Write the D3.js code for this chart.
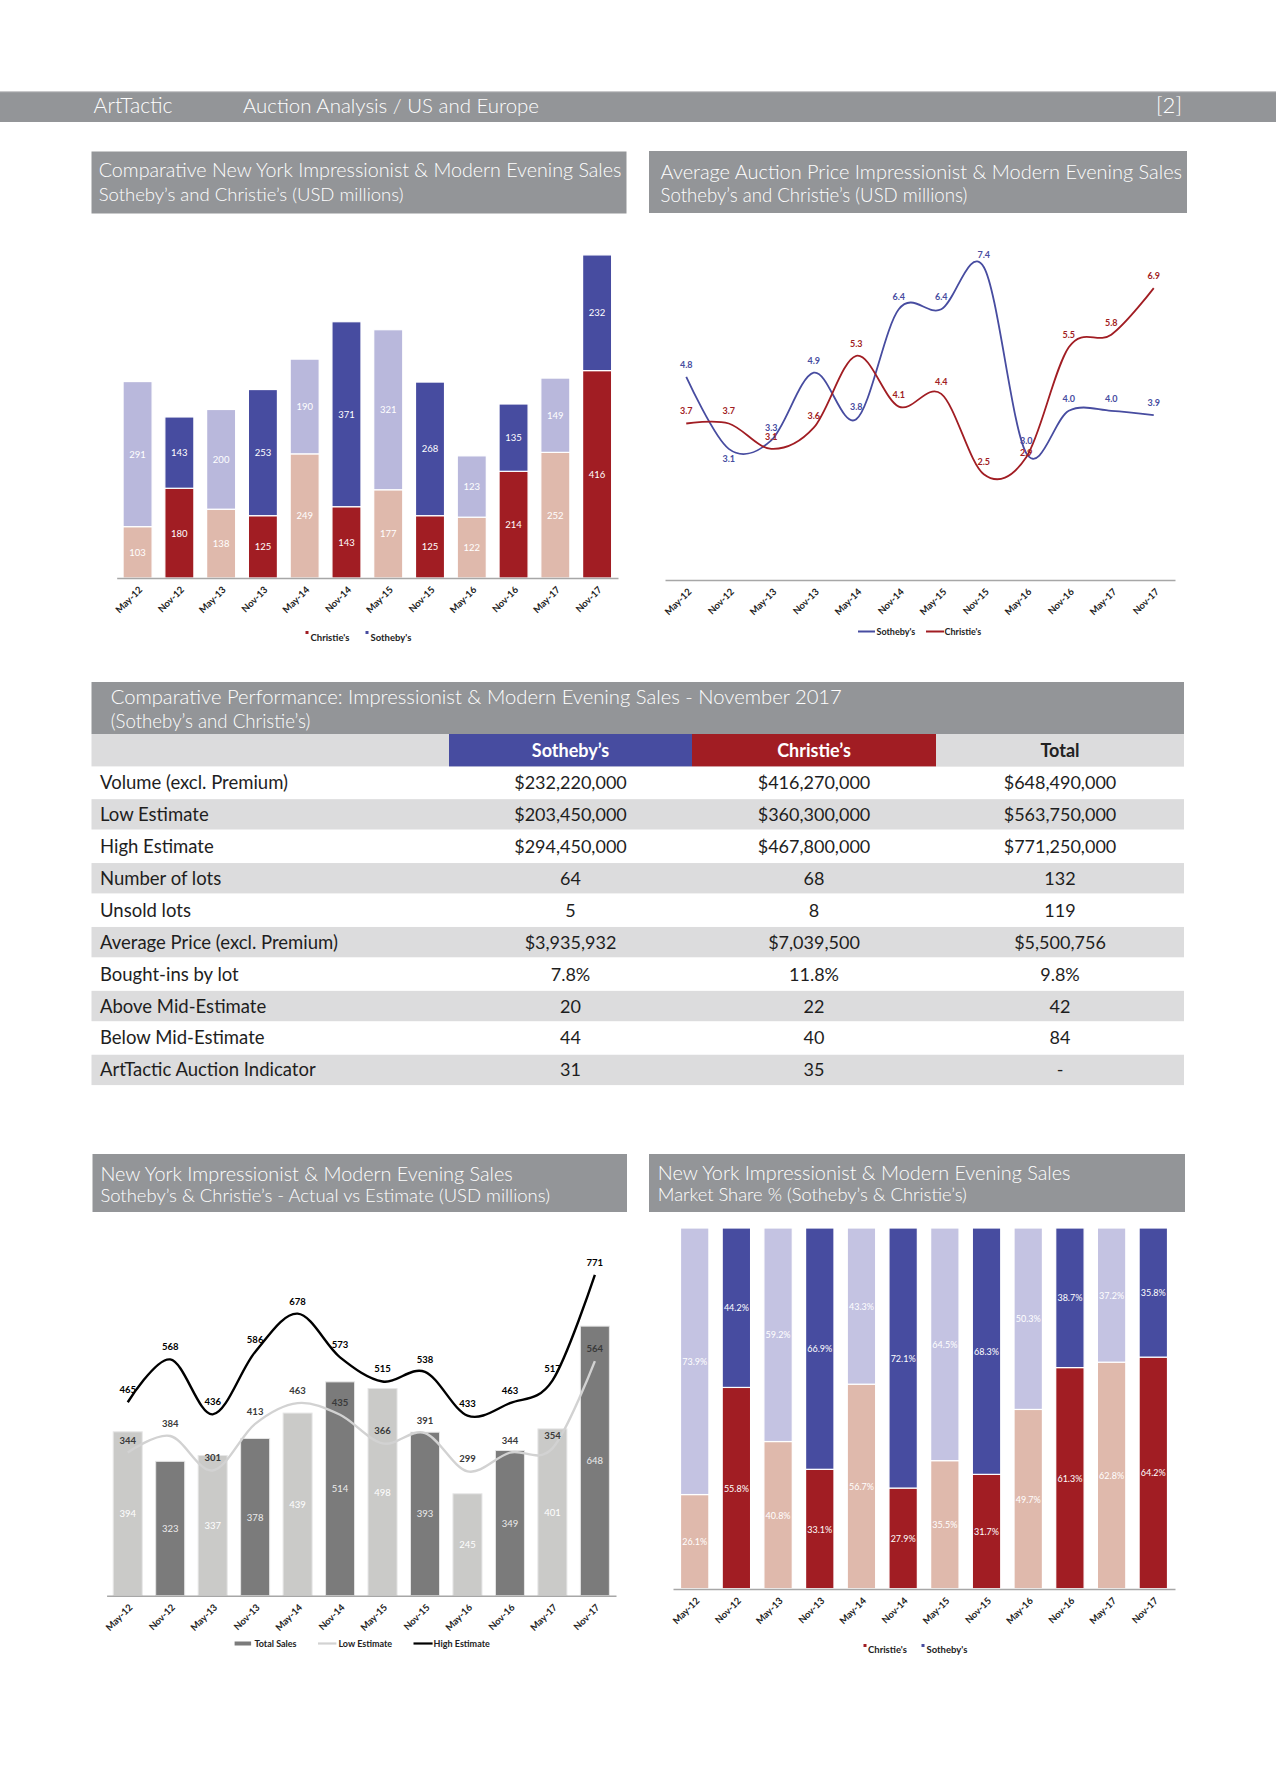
<!DOCTYPE html>
<html><head><meta charset="utf-8">
<script src="https://cdn.jsdelivr.net/npm/d3@7"></script>
<style>
body{margin:0;background:#fff;}
svg{display:block;}
text{font-family:Lato,"Open Sans",sans-serif;}
</style></head><body>
<svg id="c" width="1276" height="1790"></svg>
<script>
// ---------------- DATA ----------------
const categories = ["May-12","Nov-12","May-13","Nov-13","May-14","Nov-14","May-15","Nov-15","May-16","Nov-16","May-17","Nov-17"];
const christiesSales = [103,180,138,125,249,143,177,125,122,214,252,416];
const sothebysSales  = [291,143,200,253,190,371,321,268,123,135,149,232];
const sothebysAvgPrice  = [4.8,3.1,3.3,4.9,3.8,6.4,6.4,7.4,3.0,4.0,4.0,3.9];
const christiesAvgPrice = [3.7,3.7,3.1,3.6,5.3,4.1,4.4,2.5,2.9,5.5,5.8,6.9];
const sothebysLabelsBelow = ["Nov-12"];
const christiesLabelsLow = ["May-16"];
const totalSales   = [394,323,337,378,439,514,498,393,245,349,401,648];
const lowEstimate  = [344,384,301,413,463,435,366,391,299,344,354,564];
const highEstimate = [465,568,436,586,678,573,515,538,433,463,517,771];
const christiesShare = [26.1,55.8,40.8,33.1,56.7,27.9,35.5,31.7,49.7,61.3,62.8,64.2];
const sothebysShare  = [73.9,44.2,59.2,66.9,43.3,72.1,64.5,68.3,50.3,38.7,37.2,35.8];
const tableColumns = ["Sotheby\u2019s","Christie\u2019s","Total"];
const tableRowLabels = ["Volume (excl. Premium)","Low Estimate","High Estimate","Number of lots","Unsold lots","Average Price (excl. Premium)","Bought-ins by lot","Above Mid-Estimate","Below Mid-Estimate","ArtTactic Auction Indicator"];
const tableSothebys  = ["$232,220,000","$203,450,000","$294,450,000","64","5","$3,935,932","7.8%","20","44","31"];
const tableChristies = ["$416,270,000","$360,300,000","$467,800,000","68","8","$7,039,500","11.8%","22","40","35"];
const tableTotal     = ["$648,490,000","$563,750,000","$771,250,000","132","119","$5,500,756","9.8%","42","84","-"];

// ---------------- STYLE ----------------
const COL = {
  hdr:"#939598", sothDark:"#474ca0", sothLight:"#b9b8dc", sothLight2:"#c4c3e2",
  chrDark:"#a11d23", chrLight:"#dfb9ac", grayDark:"#7b7b7b", grayLight:"#cacac8",
  alt:"#dcdcdd", axis:"#a7a7a7"
};
const svg = d3.select("#c");
svg.append("rect").attr("width",1276).attr("height",1790).attr("fill","#fff");

function fit(sel, target){
  const w = sel.node().getComputedTextLength();
  const fs = parseFloat(sel.attr("font-size"));
  sel.attr("font-size", (fs*target/w).toFixed(2));
  return sel;
}
function header(x,y,w,h,tx,lines){
  const g = svg.append("g");
  g.append("rect").attr("x",x).attr("y",y).attr("width",w).attr("height",h).attr("fill",COL.hdr);
  lines.forEach(l=>{
    const t = g.append("text").attr("x",tx).attr("y",l.y).attr("fill","#fff")
      .attr("font-size",19).attr("font-weight",300).text(l.text);
    fit(t,l.w);
  });
}
function xAxis(g, scale, y){
  const ax = g.append("g").attr("transform",`translate(0,${y})`)
    .call(d3.axisBottom(scale).tickSize(0).tickSizeOuter(0));
  ax.select(".domain").attr("stroke",COL.axis).attr("stroke-width",1.5);
  ax.selectAll("text").attr("y",0).attr("dy","0.35em").attr("x",0)
    .attr("text-anchor","end").attr("transform","translate(3,10) rotate(-45)")
    .attr("font-size",9.5).attr("font-weight",700).attr("fill","#222")
    .attr("font-family","Lato, sans-serif");
  return ax;
}

// ---------------- TOP BAR ----------------
svg.append("rect").attr("x",0).attr("y",92).attr("width",1276).attr("height",30).attr("fill",COL.hdr);
svg.append("rect").attr("x",0).attr("y",91).attr("width",1276).attr("height",1.2).attr("fill","#c8c8ca");
fit(svg.append("text").attr("x",93.6).attr("y",113).attr("fill","#fff").attr("font-size",19).attr("font-weight",300).text("ArtTactic"),79);
fit(svg.append("text").attr("x",243).attr("y",113).attr("fill","#fff").attr("font-size",19).attr("font-weight",300).text("Auction Analysis / US and Europe"),296);
fit(svg.append("text").attr("x",1156).attr("y",113).attr("fill","#fff").attr("font-size",19).attr("font-weight",300).text("[2]"),26);

// ---------------- CHART 1: stacked bars ----------------
header(91.5,151.5,535,62,98.7,[
  {text:"Comparative New York Impressionist & Modern Evening Sales",y:177,w:523},
  {text:"Sotheby\u2019s and Christie\u2019s (USD millions)",y:200.5,w:305}]);
{
  const g = svg.append("g");
  const x = d3.scaleBand().domain(categories).range([116.7,618]).paddingInner(0.305).paddingOuter(0.1525);
  const y = d3.scaleLinear().domain([0,700]).range([578,229]);
  const data = categories.map((c,i)=>({c,i,chr:christiesSales[i],soth:sothebysSales[i]}));
  data.forEach(d=>{
    const light = d.i%2===0;
    g.append("rect").attr("x",x(d.c)).attr("width",x.bandwidth())
      .attr("y",y(d.chr)).attr("height",y(0)-y(d.chr))
      .attr("fill",light?COL.chrLight:COL.chrDark).attr("stroke","#fff").attr("stroke-width",1.2);
    g.append("rect").attr("x",x(d.c)).attr("width",x.bandwidth())
      .attr("y",y(d.chr+d.soth)).attr("height",y(d.chr)-y(d.chr+d.soth))
      .attr("fill",light?COL.sothLight:COL.sothDark).attr("stroke","#fff").attr("stroke-width",1.2);
    const cx = x(d.c)+x.bandwidth()/2;
    g.append("text").attr("x",cx).attr("y",(y(d.chr)+y(0))/2+3.5).attr("text-anchor","middle")
      .attr("fill","#fff").attr("font-size",9.5).text(d.chr);
    g.append("text").attr("x",cx).attr("y",(y(d.chr)+y(d.chr+d.soth))/2+3.5).attr("text-anchor","middle")
      .attr("fill","#fff").attr("font-size",9.5).text(d.soth);
  });
  xAxis(g,x,578);
  const lg = g.append("g").attr("font-size",9.5).attr("font-weight",700).attr("fill","#222");
  lg.append("rect").attr("x",305.5).attr("y",631).attr("width",3).attr("height",3).attr("fill",COL.chrDark);
  lg.append("text").attr("x",310.5).attr("y",640.5).text("Christie's");
  lg.append("rect").attr("x",365.5).attr("y",631).attr("width",3).attr("height",3).attr("fill",COL.sothDark);
  lg.append("text").attr("x",370.5).attr("y",640.5).text("Sotheby's");
}

// ---------------- CHART 2: average price lines ----------------
header(649,151,538,62,660.6,[
  {text:"Average Auction Price Impressionist & Modern Evening Sales",y:179,w:521.6},
  {text:"Sotheby\u2019s and Christie\u2019s (USD millions)",y:201.5,w:306.8}]);
{
  const g = svg.append("g");
  const x = d3.scalePoint().domain(categories).range([665,1175]).padding(0.5);
  const y = d3.scaleLinear().domain([0,8]).range([580,241.6]);
  const line = d3.line().x(d=>x(d.c)).y(d=>y(d.v)).curve(d3.curveCardinal.tension(0));
  const series = [
    {name:"Sotheby's",vals:sothebysAvgPrice,color:COL.sothDark,below:sothebysLabelsBelow,low:[]},
    {name:"Christie's",vals:christiesAvgPrice,color:COL.chrDark,below:[],low:christiesLabelsLow}
  ];
  series.forEach(s=>{
    const pts = categories.map((c,i)=>({c,v:s.vals[i]}));
    g.append("path").attr("d",line(pts)).attr("fill","none").attr("stroke",s.color).attr("stroke-width",1.8);
  });
  series.forEach(s=>{
    categories.forEach((c,i)=>{
      let ty = y(s.vals[i]) - 9;
      if(s.below.includes(c)) ty = y(s.vals[i]) + 13;
      if(s.low.includes(c)) ty = y(s.vals[i]) - 1;
      g.append("text").attr("x",x(c)).attr("y",ty)
        .attr("text-anchor","middle").attr("fill",s.color).attr("font-size",9).attr("font-weight",700)
        .text(d3.format(".1f")(s.vals[i]));
    });
  });
  xAxis(g,x,580);
  const lg = g.append("g").attr("font-size",9).attr("font-weight",700).attr("fill","#222");
  lg.append("line").attr("x1",858).attr("x2",875).attr("y1",631.5).attr("y2",631.5).attr("stroke",COL.sothDark).attr("stroke-width",2);
  lg.append("text").attr("x",876.5).attr("y",635).text("Sotheby's");
  lg.append("line").attr("x1",926).attr("x2",944).attr("y1",631.5).attr("y2",631.5).attr("stroke",COL.chrDark).attr("stroke-width",2);
  lg.append("text").attr("x",944.5).attr("y",635).text("Christie's");
}

// ---------------- TABLE ----------------
{
  const g = svg.append("g");
  const X0 = 91.5, X1 = 1184, top = 682;
  g.append("rect").attr("x",X0).attr("y",top).attr("width",X1-X0).attr("height",52).attr("fill",COL.hdr);
  fit(g.append("text").attr("x",110.7).attr("y",703.6).attr("fill","#fff").attr("font-size",19).attr("font-weight",300)
    .text("Comparative Performance: Impressionist & Modern Evening Sales  - November 2017"),731.6);
  fit(g.append("text").attr("x",110.7).attr("y",727.5).attr("fill","#fff").attr("font-size",19).attr("font-weight",300)
    .text("(Sotheby\u2019s and Christie\u2019s)"),199.7);
  const colEdges = [449,692,936,X1];
  const colFill = [COL.sothDark,COL.chrDark,COL.alt];
  const colText = ["#fff","#fff","#222"];
  const hy = 734, hh = 32.4;
  g.append("rect").attr("x",X0).attr("y",hy).attr("width",X1-X0).attr("height",hh).attr("fill",COL.alt);
  tableColumns.forEach((c,j)=>{
    g.append("rect").attr("x",colEdges[j]).attr("y",hy).attr("width",colEdges[j+1]-colEdges[j]).attr("height",hh).attr("fill",colFill[j]);
    g.append("text").attr("x",(colEdges[j]+colEdges[j+1])/2).attr("y",hy+hh/2+6.5).attr("text-anchor","middle")
      .attr("fill",colText[j]).attr("font-size",18).attr("font-weight",700).text(c);
  });
  const rh = 31.95, ry0 = 766.4;
  const cols = [tableSothebys,tableChristies,tableTotal];
  tableRowLabels.forEach((lab,i)=>{
    const ry = ry0 + i*rh;
    if(i%2===1) g.append("rect").attr("x",X0).attr("y",ry+0.8).attr("width",X1-X0).attr("height",rh-1.6).attr("fill",COL.alt);
    g.append("text").attr("x",100).attr("y",ry+rh/2+6.5).attr("fill","#1e1e1e").attr("font-size",18.5).attr("font-weight",400).text(lab);
    cols.forEach((arr,j)=>{
      g.append("text").attr("x",(colEdges[j]+colEdges[j+1])/2).attr("y",ry+rh/2+6.5).attr("text-anchor","middle")
        .attr("fill","#1e1e1e").attr("font-size",18).attr("font-weight",400).text(arr[i]);
    });
  });
}

// ---------------- CHART 3: actual vs estimate ----------------
header(92.5,1154,534.5,58,100.4,[
  {text:"New York Impressionist & Modern Evening Sales",y:1180.5,w:412.4},
  {text:"Sotheby\u2019s & Christie\u2019s - Actual vs Estimate (USD millions)",y:1201.7,w:449.8}]);
{
  const g = svg.append("g");
  const x = d3.scaleBand().domain(categories).range([106.6,616]).paddingInner(0.317).paddingOuter(0.156);
  const y = d3.scaleLinear().domain([0,800]).range([1595.7,1262.9]);
  categories.forEach((c,i)=>{
    g.append("rect").attr("x",x(c)).attr("width",x.bandwidth()).attr("y",y(totalSales[i])).attr("height",y(0)-y(totalSales[i]))
      .attr("fill",i%2===0?COL.grayLight:COL.grayDark).attr("stroke","#e6e6e6").attr("stroke-width",1);
    g.append("text").attr("x",x(c)+x.bandwidth()/2).attr("y",(y(totalSales[i])+y(0))/2+3.5).attr("text-anchor","middle")
      .attr("fill",i%2===0?"#fff":"#ececec").attr("font-size",9.5).text(totalSales[i]);
  });
  const cx = c=>x(c)+x.bandwidth()/2;
  const line = d3.line().x(d=>cx(d.c)).y(d=>y(d.v)).curve(d3.curveCardinal.tension(0));
  const series = [
    {vals:lowEstimate,color:"#d2d2d2",label:"#3a3a3a",w:2.4},
    {vals:highEstimate,color:"#000",label:"#000",w:2.4}
  ];
  series.forEach(s=>{
    g.append("path").attr("d",line(categories.map((c,i)=>({c,v:s.vals[i]})))).attr("fill","none")
      .attr("stroke",s.color).attr("stroke-width",s.w);
  });
  series.forEach(s=>{
    categories.forEach((c,i)=>{
      g.append("text").attr("x",cx(c)).attr("y",y(s.vals[i])-9).attr("text-anchor","middle")
        .attr("fill",s.label).attr("font-size",9.5).attr("font-weight",700).text(s.vals[i]);
    });
  });
  xAxis(g,x,1595.7);
  const lg = g.append("g").attr("font-size",9).attr("font-weight",700).attr("fill","#222");
  lg.append("rect").attr("x",234.6).attr("y",1641.5).attr("width",16.5).attr("height",4).attr("fill",COL.grayDark);
  lg.append("text").attr("x",254.4).attr("y",1647).text("Total Sales");
  lg.append("line").attr("x1",318).attr("x2",336.4).attr("y1",1643.5).attr("y2",1643.5).attr("stroke","#d2d2d2").attr("stroke-width",2.2);
  lg.append("text").attr("x",338.4).attr("y",1647).text("Low Estimate");
  lg.append("line").attr("x1",413.5).attr("x2",432.6).attr("y1",1643.5).attr("y2",1643.5).attr("stroke","#000").attr("stroke-width",2.2);
  lg.append("text").attr("x",433.6).attr("y",1647).text("High Estimate");
}

// ---------------- CHART 4: market share ----------------
header(649,1154,536,58,657.8,[
  {text:"New York Impressionist & Modern Evening Sales",y:1179.5,w:412.8},
  {text:"Market Share % (Sotheby\u2019s & Christie\u2019s)",y:1200.7,w:309}]);
{
  const g = svg.append("g");
  const x = d3.scaleBand().domain(categories).range([673,1175]).paddingInner(0.319).paddingOuter(0.18);
  const y = d3.scaleLinear().domain([0,100]).range([1588.7,1228]);
  categories.forEach((c,i)=>{
    const light = i%2===0, ch = christiesShare[i], so = sothebysShare[i];
    const cx = x(c)+x.bandwidth()/2;
    g.append("rect").attr("x",x(c)).attr("width",x.bandwidth()).attr("y",y(ch)).attr("height",y(0)-y(ch))
      .attr("fill",light?COL.chrLight:COL.chrDark).attr("stroke","#fff").attr("stroke-width",1.2);
    g.append("rect").attr("x",x(c)).attr("width",x.bandwidth()).attr("y",y(ch+so)).attr("height",y(ch)-y(ch+so))
      .attr("fill",light?COL.sothLight2:COL.sothDark).attr("stroke","#fff").attr("stroke-width",1.2);
    g.append("text").attr("x",cx).attr("y",(y(ch)+y(0))/2+3.5).attr("text-anchor","middle")
      .attr("fill","#fff").attr("font-size",9).text(d3.format(".1f")(ch)+"%");
    g.append("text").attr("x",cx).attr("y",(y(ch)+y(ch+so))/2+3.5).attr("text-anchor","middle")
      .attr("fill","#fff").attr("font-size",9).text(d3.format(".1f")(so)+"%");
  });
  xAxis(g,x,1589);
  const lg = g.append("g").attr("font-size",9.5).attr("font-weight",700).attr("fill","#222");
  lg.append("rect").attr("x",863.5).attr("y",1644).attr("width",3).attr("height",3).attr("fill",COL.chrDark);
  lg.append("text").attr("x",868).attr("y",1653).text("Christie's");
  lg.append("rect").attr("x",921.5).attr("y",1644).attr("width",3).attr("height",3).attr("fill",COL.sothDark);
  lg.append("text").attr("x",926.5).attr("y",1653).text("Sotheby's");
}
</script>
</body></html>
